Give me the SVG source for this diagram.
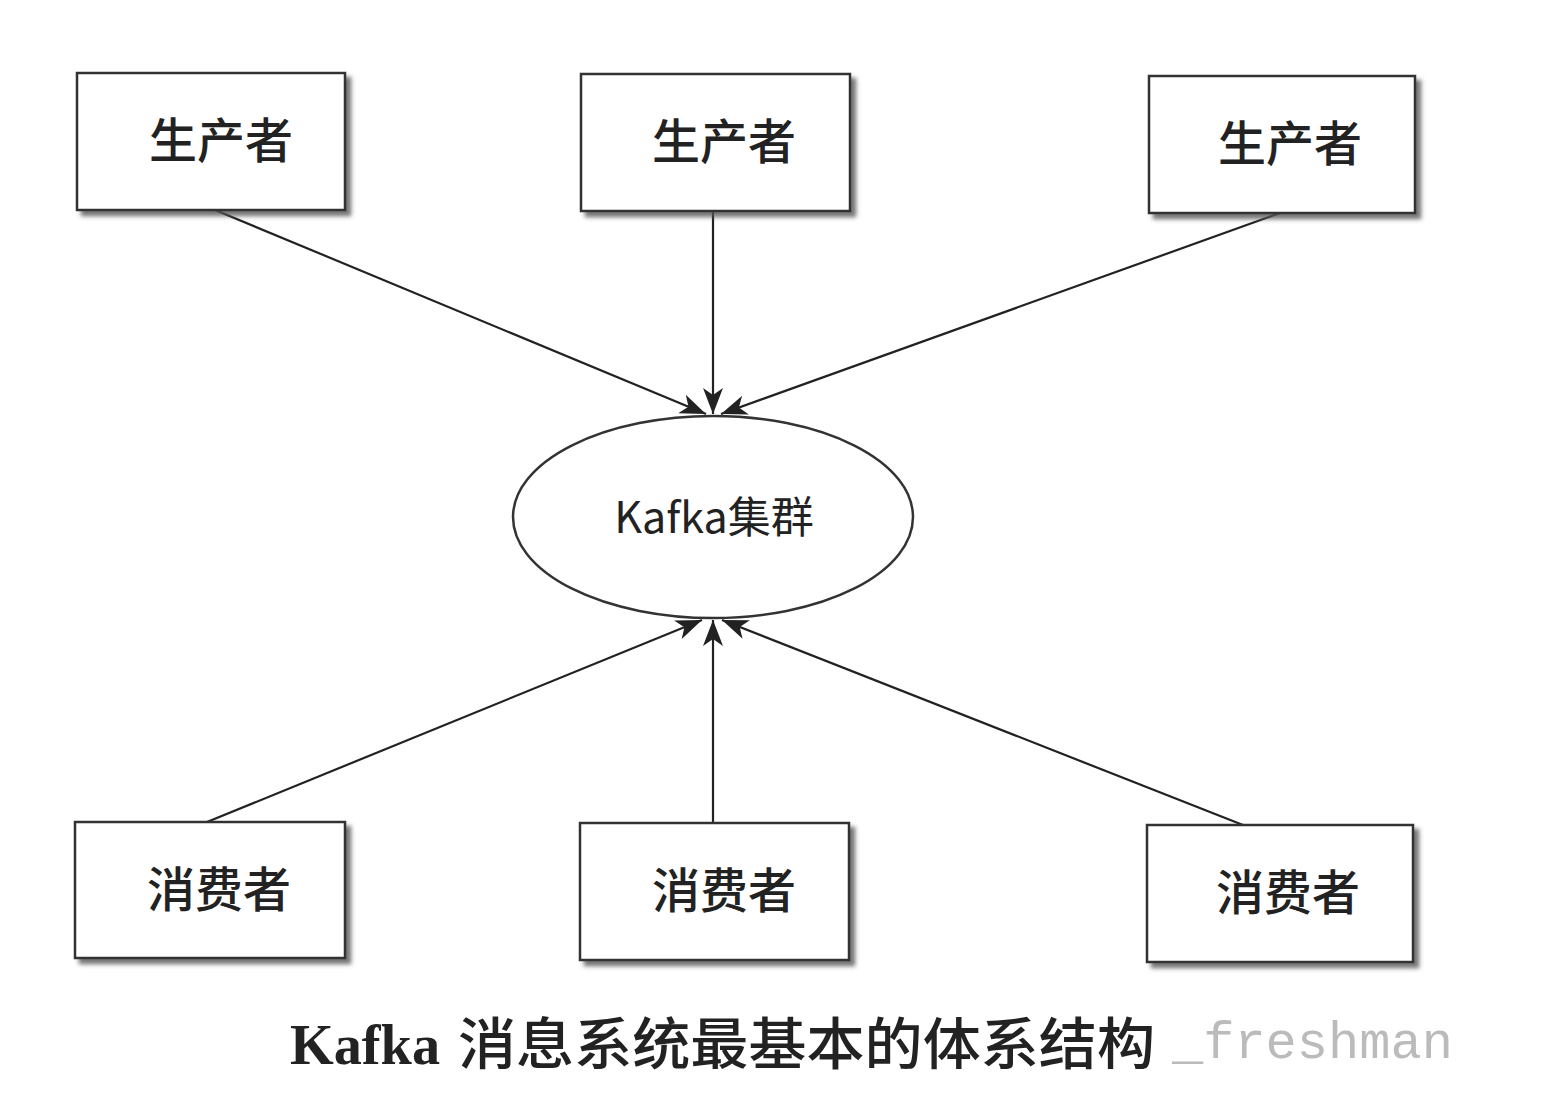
<svg xmlns="http://www.w3.org/2000/svg" width="1541" height="1098" viewBox="0 0 1541 1098">
<style>
.box{fill:#fff;stroke:#333;stroke-width:2.5;filter:url(#sh)}
.lbl{font-family:"Noto Sans CJK SC","Noto Sans",sans-serif;font-size:48px;font-weight:500;fill:#222;text-anchor:middle}
.edge{stroke:#222;stroke-width:2.2;fill:none;marker-end:url(#ah)}
</style>
<defs>
<filter id="sh" x="-10%" y="-10%" width="130%" height="130%">
<feDropShadow dx="5" dy="5" stdDeviation="2" flood-color="#555" flood-opacity="0.8"/>
</filter>
<marker id="ah" viewBox="0 0 26 20" refX="26" refY="10" markerWidth="26" markerHeight="20" markerUnits="userSpaceOnUse" orient="auto">
<path d="M0,0 L26,10 L0,20 L7,10 Z" fill="#222"/>
</marker>
</defs>
<rect width="1541" height="1098" fill="#fff"/>
<g id="connectors">
<line class="edge" x1="215" y1="210" x2="706" y2="414"/>
<line class="edge" x1="713" y1="211" x2="713" y2="414"/>
<line class="edge" x1="1280" y1="213" x2="721" y2="414"/>
<line class="edge" x1="207" y1="822" x2="702" y2="620"/>
<line class="edge" x1="713" y1="823" x2="713" y2="620"/>
<line class="edge" x1="1243" y1="825" x2="722" y2="620"/>
</g>
<g id="producer1"><rect class="box" x="77" y="73" width="268" height="137"/><text class="lbl" x="221" y="158">生产者</text></g>
<g id="producer2"><rect class="box" x="581" y="74" width="269" height="137"/><text class="lbl" x="724" y="159">生产者</text></g>
<g id="producer3"><rect class="box" x="1149" y="76" width="266" height="137"/><text class="lbl" x="1290" y="161">生产者</text></g>
<g id="kafka"><ellipse cx="713" cy="517" rx="200" ry="101" fill="#fff" stroke="#333" stroke-width="2.5"/><text x="714" y="533" font-family="'Noto Sans CJK SC','Noto Sans',sans-serif" font-size="43" fill="#222" text-anchor="middle">Kafka集群</text></g>
<g id="consumer1"><rect class="box" x="75" y="822" width="270" height="136"/><text class="lbl" x="219" y="907">消费者</text></g>
<g id="consumer2"><rect class="box" x="580" y="823" width="269" height="137"/><text class="lbl" x="724" y="908">消费者</text></g>
<g id="consumer3"><rect class="box" x="1147" y="825" width="266" height="137"/><text class="lbl" x="1288" y="910">消费者</text></g>
<text x="1172" y="1058" font-family="'Liberation Mono',monospace" font-size="52" fill="#bbb">_freshman</text>
<text x="290" y="1064" textLength="150" lengthAdjust="spacingAndGlyphs" font-family="'Liberation Serif',serif" font-weight="bold" font-size="58" fill="#222">Kafka</text>
<text x="458" y="1064" textLength="697" lengthAdjust="spacingAndGlyphs" font-family="'Noto Sans CJK SC',sans-serif" font-weight="500" font-size="56" fill="#222">消息系统最基本的体系结构</text>
</svg>
